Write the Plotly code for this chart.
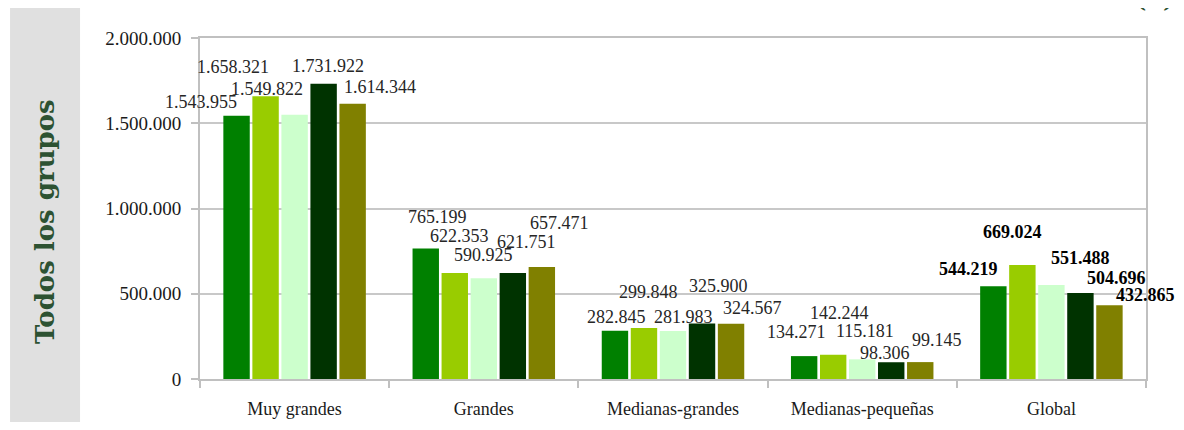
import plotly.graph_objects as go

categorias = ['Muy grandes', 'Grandes', 'Medianas-grandes', 'Medianas-pequeñas', 'Global']
serie_1 = [1543955, 765199, 282845, 134271, 544219]
serie_2 = [1658321, 622353, 299848, 142244, 669024]
serie_3 = [1549822, 590925, 281983, 115181, 551488]
serie_4 = [1731922, 621751, 325900, 98306, 504696]
serie_5 = [1614344, 657471, 324567, 99145, 432865]
y_ticks = [0, 500000, 1000000, 1500000, 2000000]

series = [serie_1, serie_2, serie_3, serie_4, serie_5]
colores = ['#008000', '#99cc00', '#ccffcc', '#003300', '#808000']

# desplazamiento de las etiquetas (px) respecto a la parte superior de cada barra
label_dx = [
    [-35.5, 12, 1.5, -8, -25],
    [-32.5, 5, 4, 6, -10],
    [-27.5, 0, 10, 2.5, 29],
    [4.5, 13.5, 16, -6.5, 36.5],
    [27.5, 18, 21, 17, 36],
]
label_dy = [
    [14, 32, 13.5, 24, 17],
    [29, 37, 36, 42, 33],
    [26, 23, 13.6, 28, 27],
    [18, 31, 37.7, 9.5, 15],
    [17, 44, 15.4, 22, 10],
]
paso = 29  # px entre barras de un grupo

fuente = 'Liberation Serif'


def fmt(v):
    return f"{v:,}".replace(',', '.')


fig = go.Figure()
for j, (vals, col) in enumerate(zip(series, colores)):
    fig.add_trace(go.Bar(
        x=categorias, y=vals, name=f'Serie {j + 1}',
        marker=dict(color=col, line=dict(width=0)),
        showlegend=False
    ))

anotaciones = []
for j, vals in enumerate(series):
    for i, (cat, v) in enumerate(zip(categorias, vals)):
        negrita = cat == 'Global'
        anotaciones.append(dict(
            x=cat, y=v, xref='x', yref='y',
            text=f"<b>{fmt(v)}</b>" if negrita else fmt(v),
            showarrow=False, xanchor='center', yanchor='middle',
            xshift=(j - 2) * paso + label_dx[j][i], yshift=label_dy[j][i],
            font=dict(family=fuente, size=18, color='#000000' if negrita else '#262626')
        ))

anotaciones.append(dict(
    x=-0.1638, y=0.4604, xref='paper', yref='paper', text='<b>Todos los grupos</b>',
    textangle=-90, showarrow=False, xanchor='center', yanchor='middle',
    font=dict(family='DejaVu Serif', size=26, color='#2d5232')
))
anotaciones.append(dict(
    x=1.0095, y=1.0675, xref='paper', yref='paper', text='<b>(  )</b>',
    showarrow=False, xanchor='center', yanchor='bottom',
    font=dict(family='DejaVu Serif', size=24, color='#2d5232')
))

fig.update_layout(
    width=1168, height=414,
    margin=dict(l=192, r=30, t=30, b=43),
    paper_bgcolor='white', plot_bgcolor='white',
    barmode='group', bargap=0.233, bargroupgap=0.09,
    separators=',.',
    annotations=anotaciones,
    shapes=[dict(type='rect', xref='paper', yref='paper',
                 x0=-0.2008, x1=-0.1268, y0=-0.1349, y1=1.0909,
                 fillcolor='#e0e0e0', line=dict(width=0), layer='below')],
    xaxis=dict(
        range=[-0.5, 4.5], autorange=False, automargin=False,
        showline=True, linecolor='#c0c0c0', linewidth=2, mirror=True,
        ticks='outside', tickson='boundaries', ticklen=7, tickcolor='#c0c0c0', tickwidth=2,
        ticklabelstandoff=12,
        tickfont=dict(family=fuente, size=18, color='#1a1a1a'),
        showgrid=False
    ),
    yaxis=dict(
        range=[0, 2000000], autorange=False, automargin=False,
        tickvals=y_ticks, tickformat=',d',
        showline=True, linecolor='#c0c0c0', linewidth=2, mirror=True,
        ticks='outside', ticklen=7, tickcolor='#c0c0c0', tickwidth=2,
        ticklabelstandoff=6,
        showgrid=True, gridcolor='#c8c8c8', gridwidth=2,
        zeroline=False,
        tickfont=dict(family=fuente, size=19, color='#1a1a1a')
    )
)

fig.write_html("out.html")
